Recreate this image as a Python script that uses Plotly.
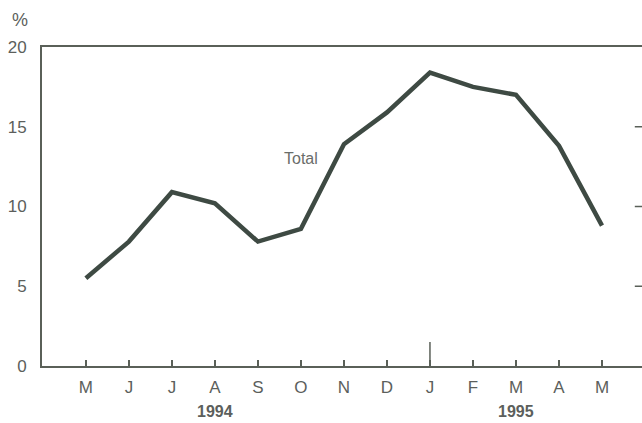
import plotly.graph_objects as go

months = ["M", "J", "J", "A", "S", "O", "N", "D", "J", "F", "M", "A", "M"]
values = [5.5, 7.8, 10.9, 10.2, 7.8, 8.6, 13.9, 15.9, 18.4, 17.5, 17.0, 13.8, 8.8]
y_ticks = [0, 5, 10, 15, 20]
years = [("1994", 3), ("1995", 10)]
x_idx = list(range(len(months)))

line_col = "#3e4a43"
axis_col = "#5a6058"
text_col = "#5c5f5c"
font_fam = "Liberation Sans, Arial, sans-serif"

fig = go.Figure()
fig.add_trace(go.Scatter(x=x_idx, y=values, mode="lines",
                         line=dict(color=line_col, width=4.5),
                         hoverinfo="skip", showlegend=False))

fig.update_layout(
    width=642, height=423,
    margin=dict(l=42, r=0, t=47, b=57),
    paper_bgcolor="white", plot_bgcolor="white",
    font=dict(family=font_fam, size=16, color=text_col),
    xaxis=dict(range=[-1.02, 12.93], tickvals=x_idx, ticktext=months,
               ticks="inside", ticklen=6, tickwidth=1.5, tickcolor=axis_col,
               showline=True, linecolor=axis_col, linewidth=2, mirror=True,
               showgrid=False, zeroline=False, ticklabelstandoff=5,
               tickfont=dict(size=17, color=text_col)),
    yaxis=dict(range=[0, 20], tickvals=y_ticks, ticks="",
               showline=True, linecolor=axis_col, linewidth=2,
               showgrid=False, zeroline=False, ticklabelstandoff=10,
               tickfont=dict(size=17, color=text_col)),
)

# longer January tick
fig.add_shape(type="line", xref="x", yref="y", x0=8, x1=8, y0=0, y1=1.5,
              line=dict(color=axis_col, width=1.5))
# right-side inner ticks
for v in y_ticks[1:-1]:
    fig.add_shape(type="line", xref="paper", yref="y", x0=0.988, x1=1.0, y0=v, y1=v,
                  line=dict(color=axis_col, width=1.5))

for label, xi in years:
    fig.add_annotation(text="<b>" + label + "</b>", x=xi, xref="x", y=0, yref="paper",
                       yanchor="middle", yshift=-45, showarrow=False,
                       font=dict(size=16, color=text_col))

fig.add_annotation(text="%", xref="paper", yref="paper", x=0, y=1, xshift=-22,
                   xanchor="center", yanchor="middle", yshift=27,
                   showarrow=False, font=dict(size=18, color=text_col))
fig.add_annotation(text="Total", x=5.0, y=13.0, xref="x", yref="y", showarrow=False,
                   font=dict(size=16, color="#6a6d6a"))

fig.write_html("out.html", config={"displayModeBar": False},
               post_script="document.body.style.margin='0';")
